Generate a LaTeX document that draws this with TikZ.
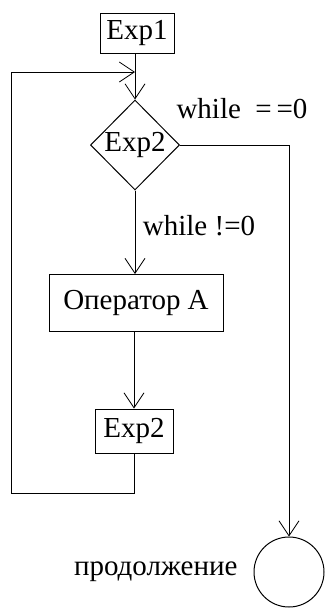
\documentclass[tikz,border=0pt]{standalone}
\usepackage{fontspec}
\setmainfont{Liberation Serif}
\usetikzlibrary{shapes.geometric,arrows.meta}
\tikzset{
    blockbox/.style={draw, line width=1pt, inner sep=0pt},
    arr/.style={line width=1pt, -{Straight Barb[length=15pt,width=20pt,line width=0.8pt]}},
    lin/.style={line width=1pt}
}
\begin{document}
\begin{tikzpicture}[x=1pt, y=-1pt, font=\fontsize{29}{33}\selectfont]
    \useasboundingbox (0,0) rectangle (328,608);

    % блоки
    \node[blockbox, minimum width=74pt, minimum height=40pt] (exp1) at (137,33) {Exp1};
    \node[blockbox, diamond, aspect=1, minimum width=89pt, minimum height=90pt] (cond) at (135,145) {Exp2};
    \node[blockbox, minimum width=174pt, minimum height=57pt] (opa) at (136,303) {Оператор А};
    \node[blockbox, minimum width=78pt, minimum height=44pt] (exp2) at (134,431) {Exp2};
    \node[draw, circle, line width=1pt, minimum size=70pt, inner sep=0pt] (stop) at (289,572) {};

    % подписи
    \node (lzero) at (242,109) {while\ \ =\,=0};
    \node (lnz) at (199,226) {while !=0};
    \node[anchor=east] (lcont) at (241,572) {продолжение};

    % стрелки
    \coordinate (join) at (exp1.south |- 0,72);
    \draw[arr] (exp1.south -| cond.north) -- (cond.north);
    \draw[arr] (cond.south) -- (opa.north -| cond.south);
    \draw[arr] (opa.south -| exp2.north) -- (exp2.north);
    \draw[arr] (exp2.south) -- ++(0,40) -| (11,72) -- (join -| cond.north);
    \draw[arr] (cond.east) -| (stop.north);
\end{tikzpicture}
\end{document}
